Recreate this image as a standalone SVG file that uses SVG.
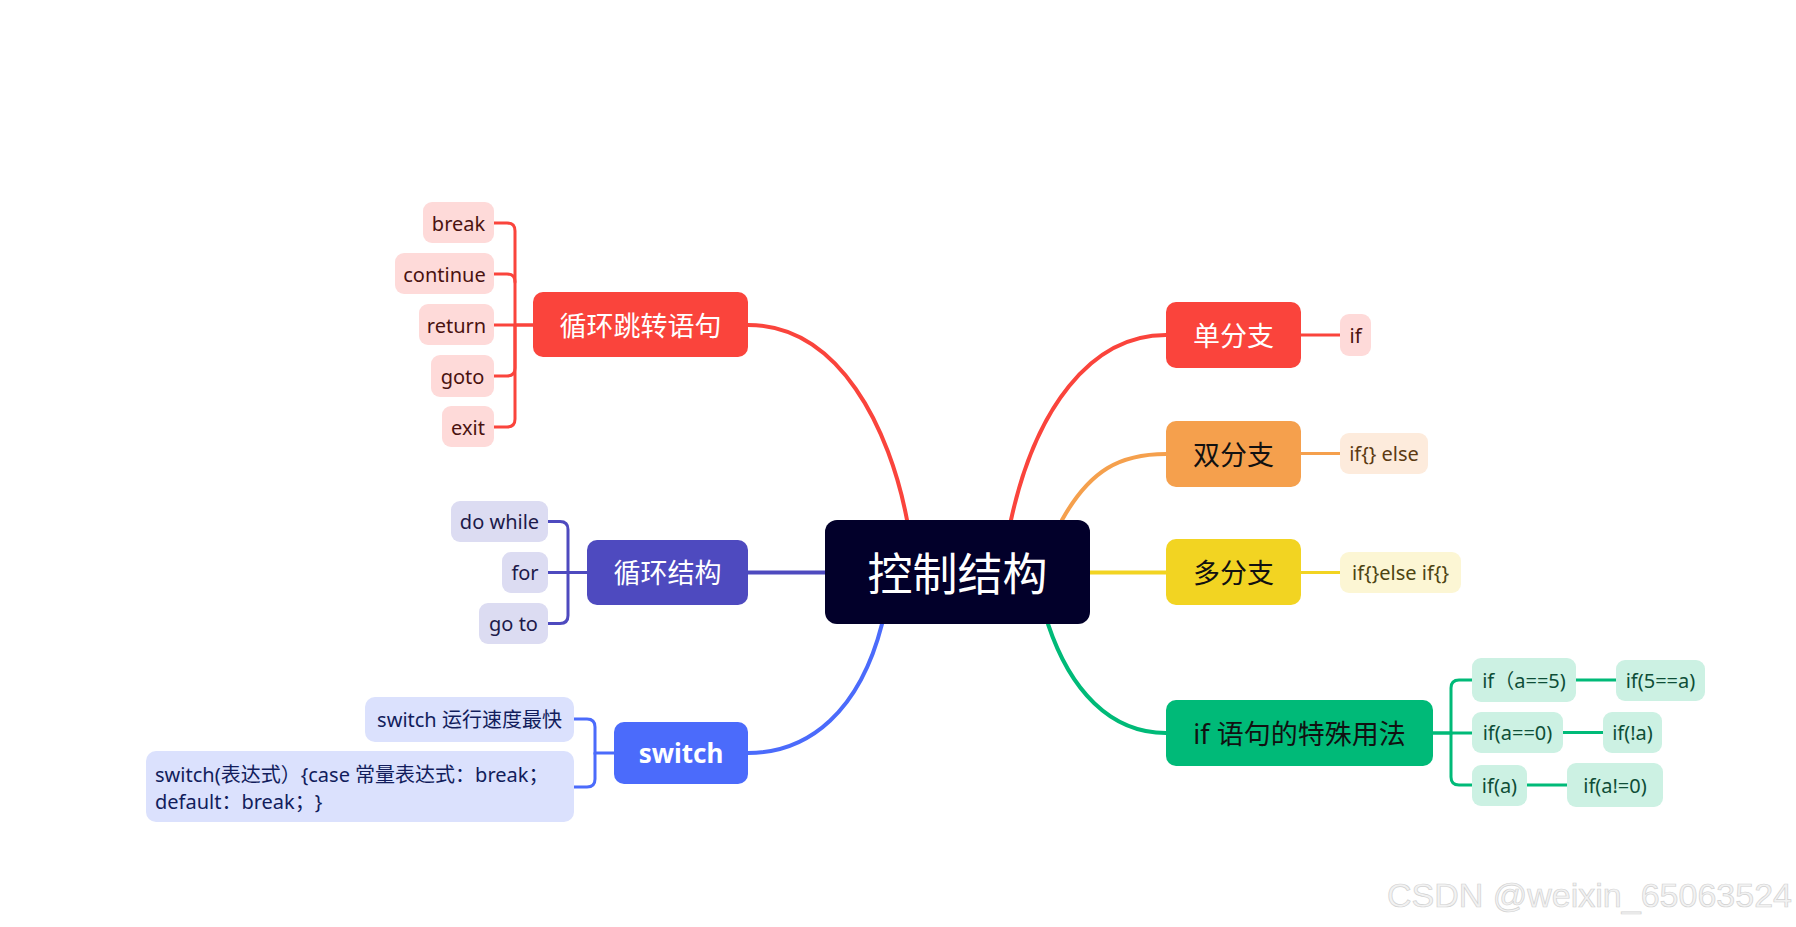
<svg xmlns="http://www.w3.org/2000/svg" width="1796" height="927" viewBox="0 0 1796 927">
<style>
text{font-family:"Noto Sans","Noto Sans CJK SC",sans-serif;dominant-baseline:central;text-anchor:middle;text-spacing-trim:space-all}
.main{font-size:27px}
.w{fill:#ffffff}
.k{fill:#111111}
.c{font-size:20px}
.lk{fill:none;stroke-width:4;stroke-linecap:round}
.sk{fill:none;stroke-width:3;stroke-linecap:round}
</style>
<rect width="1796" height="927" fill="#ffffff"/>
<g id="connectors">
  <path class="lk" stroke="#FA443C" d="M748,325 C840,325 890,430 907,520"/>
  <path class="lk" stroke="#4E4ABF" d="M748,572.5 H825"/>
  <path class="lk" stroke="#4B6BFB" d="M882,624 C860,710 810,753 748,753"/>
  <path class="lk" stroke="#FA443C" d="M1011,520 C1035,410 1090,335 1166,335"/>
  <path class="lk" stroke="#F5A04D" d="M1062,520 C1090,470 1120,454 1166,454"/>
  <path class="lk" stroke="#F2D422" d="M1090,572.5 H1166"/>
  <path class="lk" stroke="#00BA78" d="M1048,624 C1070,690 1110,733 1166,733"/>
  <g stroke="#FA443C" class="sk">
    <path class="sk" d="M533,325 H515 V231 Q515,223 507,223 H494"/>
    <path class="sk" d="M515,282 Q515,274 507,274 H494"/>
    <path class="sk" d="M533,325 H494"/>
    <path class="sk" d="M515,325 V368 Q515,376 507,376 H494"/>
    <path class="sk" d="M515,325 V419 Q515,427 507,427 H494"/>
  </g>
  <g stroke="#4E4ABF" class="sk">
    <path class="sk" d="M587,572.5 H568 V529.5 Q568,521.5 560,521.5 H548"/>
    <path class="sk" d="M587,572.5 H548"/>
    <path class="sk" d="M568,572.5 V615.5 Q568,623.5 560,623.5 H548"/>
  </g>
  <g stroke="#4B6BFB" class="sk">
    <path class="sk" d="M614,753 H595 V727 Q595,719 587,719 H574"/>
    <path class="sk" d="M595,753 V779 Q595,787 587,787 H574"/>
  </g>
  <path class="sk" stroke="#FA443C" d="M1301,335 H1340"/>
  <path class="sk" stroke="#F5A04D" d="M1301,453.5 H1340"/>
  <path class="sk" stroke="#F2D422" d="M1301,572.5 H1340"/>
  <g stroke="#00BA78" class="sk">
    <path class="sk" d="M1433,733 H1451 V688 Q1451,680 1459,680 H1472"/>
    <path class="sk" d="M1433,733 H1472"/>
    <path class="sk" d="M1451,733 V777 Q1451,785 1459,785 H1472"/>
    <path class="sk" d="M1576,680 H1616"/>
    <path class="sk" d="M1563,732.5 H1603"/>
    <path class="sk" d="M1527,785 H1567"/>
  </g>
</g>
<g id="center">
  <rect x="825" y="520" width="265" height="104" rx="12" fill="#02002A"/>
  <text x="957.5" y="573" font-size="45" class="w">控制结构</text>
</g>
<g id="loopjump">
  <rect x="533" y="292" width="215" height="65" rx="10" fill="#FA443C"/>
  <text x="640.5" y="325" class="main w">循环跳转语句</text>
</g>
<g id="c-break"><rect x="423" y="202" width="71" height="41" rx="9" fill="#FEDAD9"/><text x="458.5" y="223" class="c" fill="#4A1210">break</text></g>
<g id="c-continue"><rect x="395" y="253" width="99" height="41" rx="9" fill="#FEDAD9"/><text x="444.5" y="274" class="c" fill="#4A1210">continue</text></g>
<g id="c-return"><rect x="419" y="304" width="75" height="41" rx="9" fill="#FEDAD9"/><text x="456.5" y="325" class="c" fill="#4A1210">return</text></g>
<g id="c-goto"><rect x="431" y="355" width="63" height="42" rx="9" fill="#FEDAD9"/><text x="462.5" y="376" class="c" fill="#4A1210">goto</text></g>
<g id="c-exit"><rect x="442" y="406" width="52" height="41" rx="9" fill="#FEDAD9"/><text x="468" y="427" class="c" fill="#4A1210">exit</text></g>
<g id="loop">
  <rect x="587" y="540" width="161" height="65" rx="10" fill="#4E4ABF"/>
  <text x="667.5" y="572.5" class="main w">循环结构</text>
</g>
<g id="c-dowhile"><rect x="451" y="501" width="97" height="41" rx="9" fill="#DCDCF2"/><text x="499.5" y="521.5" class="c" fill="#1D1A4A">do while</text></g>
<g id="c-for"><rect x="502" y="552" width="46" height="41" rx="9" fill="#DCDCF2"/><text x="525" y="572.5" class="c" fill="#1D1A4A">for</text></g>
<g id="c-goto2"><rect x="479" y="603" width="69" height="41" rx="9" fill="#DCDCF2"/><text x="513.5" y="623.5" class="c" fill="#1D1A4A">go to</text></g>
<g id="switch">
  <rect x="614" y="722" width="134" height="62" rx="10" fill="#4B6BFB"/>
  <text x="681" y="753" font-size="26" font-weight="bold" class="w">switch</text>
</g>
<g id="c-sw1"><rect x="365" y="697" width="209" height="45" rx="10" fill="#DBE1FD"/><text x="469.5" y="719.5" class="c" fill="#121D5C">switch 运行速度最快</text></g>
<g id="c-sw2"><rect x="146" y="751" width="428" height="71" rx="10" fill="#DBE1FD"/>
  <text x="155" y="774" class="c" fill="#121D5C" style="text-anchor:start">switch(表达式）{case 常量表达式：break；</text>
  <text x="155" y="801" class="c" fill="#121D5C" style="text-anchor:start">default：break；}</text>
</g>
<g id="single">
  <rect x="1166" y="302" width="135" height="66" rx="10" fill="#FA443C"/>
  <text x="1233.5" y="335" class="main w">单分支</text>
</g>
<g id="c-if"><rect x="1340" y="314" width="31" height="42" rx="9" fill="#FEDAD9"/><text x="1355.5" y="335" class="c" fill="#4A1210">if</text></g>
<g id="double">
  <rect x="1166" y="421" width="135" height="66" rx="10" fill="#F5A04D"/>
  <text x="1233.5" y="454" class="main k">双分支</text>
</g>
<g id="c-ifelse"><rect x="1340" y="433" width="88" height="41" rx="9" fill="#FDEBDC"/><text x="1384" y="453.5" class="c" fill="#5C3A12">if{} else</text></g>
<g id="multi">
  <rect x="1166" y="539" width="135" height="66" rx="10" fill="#F2D422"/>
  <text x="1233.5" y="572" class="main k">多分支</text>
</g>
<g id="c-ifelseif"><rect x="1340" y="552" width="121" height="41" rx="9" fill="#FCF6D4"/><text x="1400.5" y="572.5" class="c" fill="#4D4413">if{}else if{}</text></g>
<g id="special">
  <rect x="1166" y="700" width="267" height="66" rx="10" fill="#00BA78"/>
  <text x="1299.5" y="733" class="main k">if 语句的特殊用法</text>
</g>
<g id="c-a5"><rect x="1472" y="658" width="104" height="44" rx="9" fill="#CCF1E3"/><text x="1524" y="680" class="c" fill="#0E4E37">if（a==5)</text></g>
<g id="c-5a"><rect x="1616" y="660" width="89" height="41" rx="9" fill="#CCF1E3"/><text x="1660.5" y="680.5" class="c" fill="#0E4E37">if(5==a)</text></g>
<g id="c-a0"><rect x="1472" y="712" width="91" height="41" rx="9" fill="#CCF1E3"/><text x="1517.5" y="732.5" class="c" fill="#0E4E37">if(a==0)</text></g>
<g id="c-na"><rect x="1603" y="712" width="59" height="41" rx="9" fill="#CCF1E3"/><text x="1632.5" y="732.5" class="c" fill="#0E4E37">if(!a)</text></g>
<g id="c-a"><rect x="1472" y="765" width="55" height="41" rx="9" fill="#CCF1E3"/><text x="1499.5" y="785.5" class="c" fill="#0E4E37">if(a)</text></g>
<g id="c-an0"><rect x="1567" y="763" width="96" height="44" rx="9" fill="#CCF1E3"/><text x="1615" y="785" class="c" fill="#0E4E37">if(a!=0)</text></g>
<text x="1387" y="895" font-size="34" fill="#f2f2f2" stroke="#d2d2d2" stroke-width="0.7" style="text-anchor:start;font-family:'Liberation Sans',sans-serif">CSDN @weixin_65063524</text>
</svg>
